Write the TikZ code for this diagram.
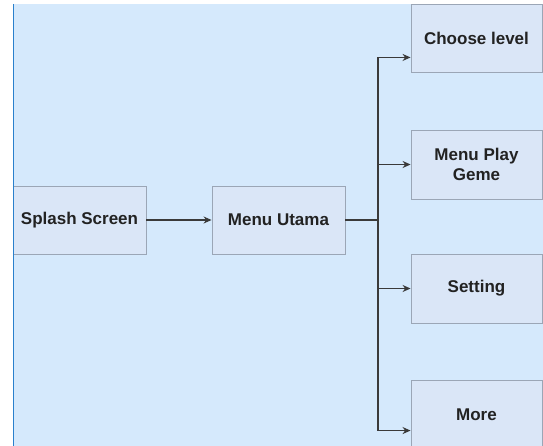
\documentclass[tikz,border=0pt]{standalone}
\usepackage{fontspec}
\setmainfont{Liberation Sans}
\usetikzlibrary{arrows.meta,calc}
\definecolor{bgblue}{HTML}{D5E9FC}
\definecolor{boxfill}{HTML}{DAE6F7}
\definecolor{boxline}{HTML}{9BA6B6}
\definecolor{edgeblue}{HTML}{2A80CC}
\definecolor{txt}{HTML}{222222}
\definecolor{conn}{HTML}{3A3A3A}
\begin{document}
\begin{tikzpicture}[x=1pt,y=1pt,
  box/.style={draw=boxline, line width=0.9pt, fill=boxfill, text=txt,
    font=\fontsize{17}{20}\selectfont\bfseries, align=center, inner sep=0pt},
  conn/.style={draw=conn, line width=1.2pt},
  arr/.style={conn, -{Stealth[length=8pt,width=7pt]}}]
\clip (0,0) rectangle (543,-446);
\useasboundingbox (0,0) rectangle (543,-446);
\fill[white] (0,0) rectangle (543,-446);
\fill[bgblue] (13,-4) rectangle (543,-446);
\node[box, minimum width=133pt, minimum height=68pt] (splash) at (79.5,-220) {Splash Screen};
\node[box, minimum width=133pt, minimum height=68pt] (menu) at (278.5,-220) {Menu Utama};
\node[box, minimum width=131pt, minimum height=68pt] (choose) at (476.5,-38) {Choose level};
\node[box, minimum width=131pt, minimum height=69pt] (play) at (476.5,-164.5) {Menu Play\\Geme};
\node[box, minimum width=131pt, minimum height=69pt] (setting) at (476.5,-288.5) {Setting};
\node[box, minimum width=131pt, minimum height=70pt] (more) at (476.5,-415) {More};
\draw[edgeblue, line width=1.6pt] (13.3,-4) -- (13.3,-446);
\coordinate (j) at (378,-220);
\coordinate (c1) at ($(choose.south west)+(0,15)$);
\coordinate (c4) at ($(more.north west)+(0,-51)$);
\draw[arr] (splash.east) -- (menu.west);
\draw[conn] (menu.east) -- (j);
\draw[arr] (j) |- (c1);
\draw[arr] (j) |- (play.west);
\draw[arr] (j) |- (setting.west);
\draw[arr] (j) |- (c4);
\end{tikzpicture}
\end{document}
